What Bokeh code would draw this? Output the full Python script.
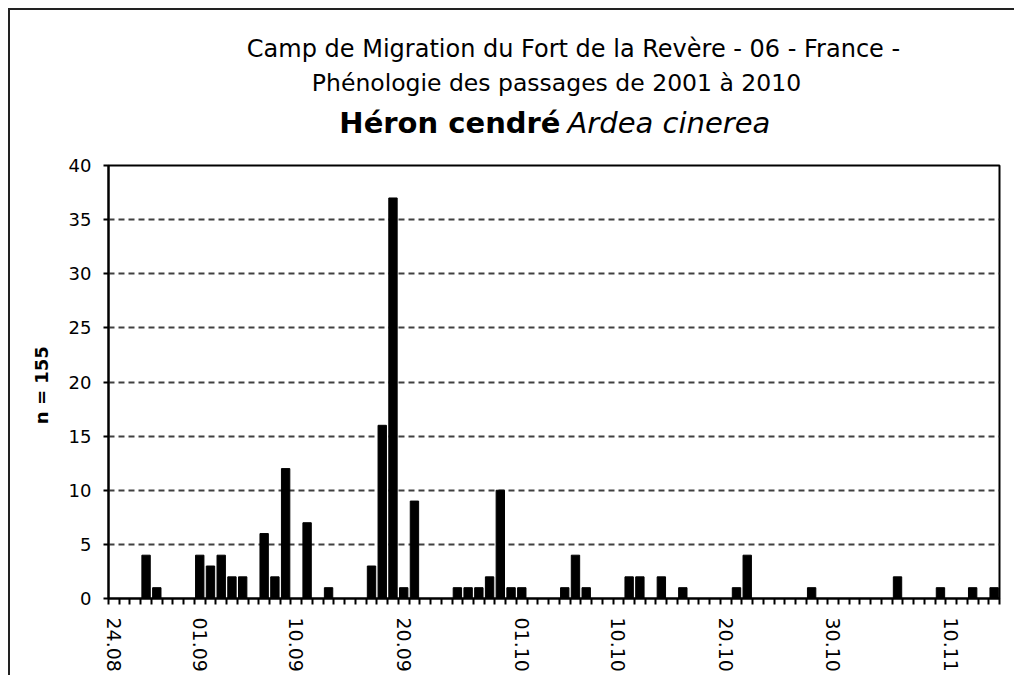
from datetime import date, timedelta
from bokeh.plotting import figure
from bokeh.layouts import column
from bokeh.models import Range1d, FixedTicker, ColumnDataSource
from bokeh.core.properties import value
from bokeh.embed import file_html
from bokeh.resources import INLINE

# ---- data ----
start_day = date(2001, 8, 24)
n_days = 83
days = [(start_day + timedelta(days=i)).strftime("%d.%m") for i in range(n_days)]

counts = [
    0, 0, 0, 4, 1, 0, 0, 0, 4, 3,
    4, 2, 2, 0, 6, 2, 12, 0, 7, 0,
    1, 0, 0, 0, 3, 16, 37, 1, 9, 0,
    0, 0, 1, 1, 1, 2, 10, 1, 1, 0,
    0, 0, 1, 4, 1, 0, 0, 0, 2, 2,
    0, 2, 0, 1, 0, 0, 0, 0, 1, 4,
    0, 0, 0, 0, 0, 1, 0, 0, 0, 0,
    0, 0, 0, 2, 0, 0, 0, 1, 0, 0,
    1, 0, 1,
]

tick_labels = ["24.08", "01.09", "10.09", "20.09", "01.10", "10.10", "20.10", "30.10", "10.11"]
y_ticks = [0, 5, 10, 15, 20, 25, 30, 35, 40]

title_line1 = "Camp de Migration du Fort de la Revère - 06 - France -"
title_line2 = "Phénologie des passages de 2001 à 2010"
species_fr = "Héron cendré"
species_lat = "Ardea cinerea"
y_label = "n =  155"

FONT = "DejaVu Sans"
W = 996
FW = 891
TH = 145
BL, BR = 98, 7

# ---- title block (pixel-unit data space, frame aligned with the chart frame) ----
t = figure(frame_width=FW, frame_height=TH,
           x_range=Range1d(0, FW), y_range=Range1d(0, TH),
           min_border_left=BL, min_border_right=BR, min_border_top=0, min_border_bottom=0,
           x_axis_location=None, y_axis_location=None,
           output_backend="svg", toolbar_location=None, title=None)
t.outline_line_color = None
t.xgrid.grid_line_color = None
t.ygrid.grid_line_color = None
t.background_fill_color = "white"
t.border_fill_color = "white"

def txt(s, x, y, align, size, style):
    t.text(x=[x], y=[y], text=[s], text_align=align, text_baseline="middle",
           text_font=value(FONT), text_font_size=size, text_font_style=style,
           text_color="black")

txt(title_line1, 465, 107, "center", "24px", "normal")
txt(title_line2, 448, 73, "center", "23.5px", "normal")
txt(species_fr, 452, 33, "right", "29px", "bold")
txt(species_lat, 459, 33, "left", "29px", "italic")

# ---- main chart ----
src = ColumnDataSource(dict(x=[i + 0.5 for i in range(n_days)], top=counts, day=days))

p = figure(
    frame_width=FW, frame_height=433,
    min_border_left=BL, min_border_right=BR, min_border_top=10, min_border_bottom=75,
    x_range=Range1d(0, n_days), y_range=Range1d(0, 40),
    output_backend="svg", toolbar_location=None, title=None,
)
p.background_fill_color = "white"
p.border_fill_color = "white"
p.outline_line_color = "black"
p.outline_line_width = 2

p.vbar(x="x", top="top", width=0.78, source=src, fill_color="black", line_color="black", line_width=1)

xa = p.xaxis[0]
major = [days.index(l) + 0.5 for l in tick_labels]
xa.ticker = FixedTicker(ticks=major, minor_ticks=list(range(n_days + 1)))
xa.major_label_overrides = {m: l for m, l in zip(major, tick_labels)}
xa.major_label_orientation = "vertical"
xa.major_tick_out = 0
xa.major_tick_in = 0
xa.minor_tick_out = 6
xa.minor_tick_in = 0
xa.minor_tick_line_color = "black"
xa.minor_tick_line_width = 2
xa.axis_line_color = "black"
xa.axis_line_width = 2
xa.major_label_text_font = FONT
xa.major_label_text_font_size = "19px"
xa.major_label_text_color = "black"
xa.major_label_standoff = 13

ya = p.yaxis[0]
ya.ticker = FixedTicker(ticks=y_ticks)
ya.major_tick_out = 5
ya.major_tick_in = 0
ya.minor_tick_out = 0
ya.minor_tick_in = 0
ya.major_tick_line_color = "black"
ya.major_tick_line_width = 2
ya.axis_line_color = "black"
ya.axis_line_width = 2
ya.major_label_text_font = FONT
ya.major_label_text_font_size = "18px"
ya.major_label_text_color = "black"
ya.major_label_standoff = 12
ya.axis_label = y_label
ya.axis_label_text_font = FONT
ya.axis_label_text_font_size = "18px"
ya.axis_label_text_font_style = "bold"
ya.axis_label_text_color = "black"
ya.axis_label_standoff = 14

p.xgrid.grid_line_color = None
p.ygrid.grid_line_color = "#404040"
p.ygrid.grid_line_width = 2
p.ygrid.grid_line_dash = "6 4"

layout = column(t, p, spacing=0)
layout.styles = {"margin-left": "8px", "margin-top": "8px",
                 "padding-right": "8px", "padding-bottom": "2px",
                 "border-left": "2px solid #222", "border-top": "2px solid #222"}

open("out.html", "w").write(file_html(layout, INLINE))
